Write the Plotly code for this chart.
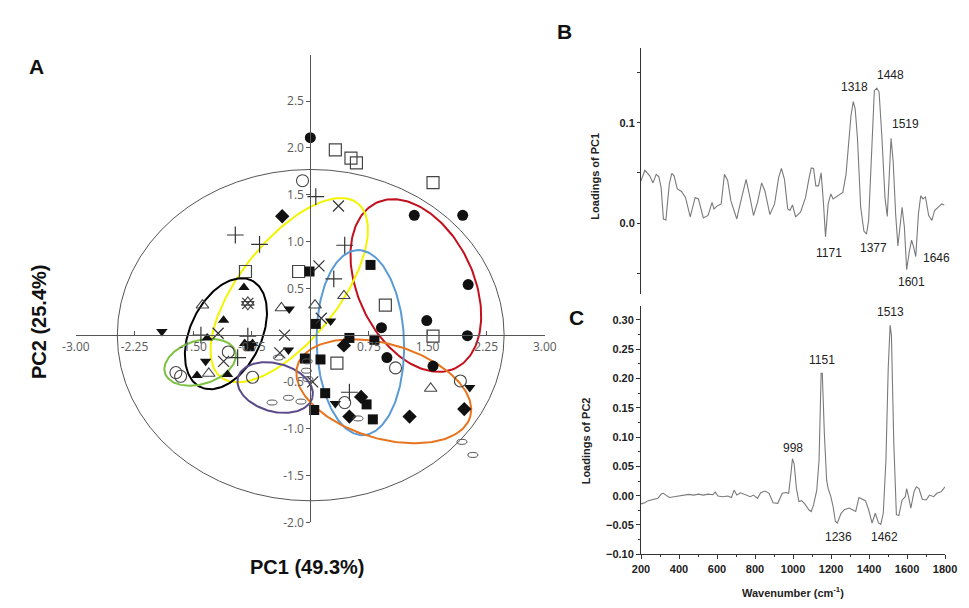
import numpy as np
import plotly.graph_objects as go

W, H = 969, 608

# ---------------- Panel A : PCA scores ----------------
FILLED_CIRCLE_X = [0.00, 1.33, 1.95, 2.02, 1.49, 0.91, 2.01, 0.98, 1.57]
FILLED_CIRCLE_Y = [2.11, 1.28, 1.28, 0.54, 0.156, 0.08, -0.006, -0.24, -0.33]

OPEN_SQUARE_X = [0.32, 0.52, 0.59, 1.57, -0.83, -0.15, 0.96, 1.57, 0.34]
OPEN_SQUARE_Y = [1.98, 1.89, 1.84, 1.63, 0.68, 0.68, 0.32, -0.01, -0.30]

FILLED_SQUARE_X = [-0.01, 0.77, 0.50, 0.82, -0.07, 0.13, 0.19, 0.05, 0.72, 0.80, 0.07, -0.78]
FILLED_SQUARE_Y = [0.68, 0.75, -0.03, -0.05, -0.25, -0.26, -0.62, -0.80, -0.74, -0.90, 0.12, -0.12]

FILLED_DIAMOND_X = [-0.36, 0.43, 0.65, 0.50, 1.27, 1.97]
FILLED_DIAMOND_Y = [1.27, -0.11, -0.66, -0.87, -0.87, -0.79]

FILLED_TRIUP_X = [-0.85, -1.11, -0.84, -0.74, -1.45, -1.06, -1.32]
FILLED_TRIUP_Y = [0.51, 0.16, -0.09, -0.09, -0.43, -0.42, -0.03]

OPEN_TRIUP_X = [-1.38, -1.30, -0.37, 0.06, 0.43, 1.54, -0.80]
OPEN_TRIUP_Y = [0.32, -0.41, 0.29, 0.32, 0.42, -0.57, 0.35]

OPEN_TRIDOWN_X = [-0.80]
OPEN_TRIDOWN_Y = [0.33]

FILLED_TRIDOWN_X = [-1.90, -0.27, 0.26, -0.28, 0.32, 2.04, -1.34]
FILLED_TRIDOWN_Y = [0.04, 0.28, 0.15, -0.16, -0.73, -0.56, -0.28]

OPEN_CIRCLE_X = [-0.10, -1.05, -1.72, -1.66, -0.74, 0.44, 1.09, 1.92]
OPEN_CIRCLE_Y = [1.65, -0.18, -0.40, -0.44, -0.45, -0.72, -0.35, -0.49]

PLUS_X = [0.07, -0.96, -0.65, 0.44, 0.30, -1.40, -0.80, 0.50, -0.93]
PLUS_Y = [1.48, 1.07, 0.97, 0.96, 0.60, 0.00, -0.01, -0.61, -0.24]

CROSS_X = [0.36, 0.11, -1.18, -0.33, -1.11, -0.39, 0.03, 0.14, -0.80]
CROSS_Y = [1.38, 0.74, 0.02, 0.00, -0.28, -0.19, -0.50, 0.18, 0.34]

OVAL_X = [-0.41, -0.04, -0.05, -0.03, -0.28, -0.12, -0.49, 0.61, 1.94, 2.08]
OVAL_Y = [-0.24, -0.28, -0.38, -0.47, -0.67, -0.71, -0.72, -0.89, -1.14, -1.28]

# group ellipses: centre x, centre y, semi-major (px), semi-minor (px), angle (deg), colour
GROUP_ELLIPSES = [
    (1.35, 0.53, 93.1, 59.1, -63.7, "#c3101e"),
    (-0.27, 0.48, 112.7, 50.6, 51.2, "#f4f400"),
    (-1.08, 0.015, 60.1, 36.5, 63.7, "#000000"),
    (-1.41, -0.29, 37.8, 22.1, 16.4, "#7dc242"),
    (-0.45, -0.56, 39.6, 24.4, -15.0, "#5a4a8a"),
    (0.64, -0.08, 93.8, 44.9, 91.7, "#5b9bd5"),
    (0.94, -0.60, 92.5, 47.9, -16.1, "#e8741e"),
]
T2_ELLIPSE = (-2.47, 2.48, -1.77, 1.77)

A_XTICKS = [-3.0, -2.25, -1.5, -0.75, 0.75, 1.5, 2.25, 3.0]
A_XTICKTEXT = ["-3.00", "-2.25", "-1.50", "-0.75", "0.75", "1.50", "2.25", "3.00"]
A_YTICKS = [-2.0, -1.5, -1.0, -0.5, 0.5, 1.0, 1.5, 2.0, 2.5]
A_YTICKTEXT = ["-2.0", "-1.5", "-1.0", "-0.5", "0.5", "1.0", "1.5", "2.0", "2.5"]

# ---------------- Panel B : PC1 loadings ----------------
B_WN = [200, 220, 246, 263, 280, 294, 306, 318, 331, 349, 362, 374, 391, 413, 434, 459, 485, 502, 528, 553,
        574, 584, 605, 622, 639, 656, 673, 704, 728, 753, 775, 792, 813, 835, 852, 878, 903, 924, 939, 955,
        972, 984, 997, 1014, 1040, 1066, 1083, 1096, 1108, 1120, 1134, 1148, 1160, 1171, 1185, 1199, 1211,
        1236, 1262, 1279, 1296, 1305, 1317, 1327, 1339, 1356, 1373, 1387, 1398, 1416, 1428, 1441, 1453,
        1467, 1484, 1496, 1506, 1516, 1527, 1540, 1552, 1564, 1574, 1586, 1598, 1612, 1624, 1634, 1646,
        1660, 1672, 1684, 1697, 1714, 1731, 1745, 1762, 1783, 1796]
B_LOAD = [0.042, 0.0525, 0.047, 0.040, 0.0485, 0.046, 0.035, 0.004, 0.003, 0.039, 0.0495, 0.047, 0.034,
          0.0315, 0.0255, 0.006, 0.0255, 0.024, 0.005, 0.0075, 0.0205, 0.014, 0.0175, 0.019, 0.0485, 0.0425,
          0.022, 0.004, 0.024, 0.0435, 0.024, 0.0075, 0.0205, 0.040, 0.032, 0.0085, 0.019, 0.045, 0.0545,
          0.0435, 0.014, 0.0125, 0.018, 0.006, 0.011, 0.0255, 0.0435, 0.055, 0.0545, 0.037, 0.037, 0.050,
          0.0205, -0.0138, 0.019, 0.029, 0.024, 0.027, 0.0305, 0.0485, 0.086, 0.107, 0.121, 0.114, 0.085,
          0.016, -0.008, -0.011, 0.0026, 0.078, 0.132, 0.1345, 0.1306, 0.088, 0.0256, 0.0066, 0.0486, 0.0846,
          0.0617, 0.0092, -0.023, -0.004, 0.0157, -0.004, -0.0466, -0.0285, -0.017, -0.0236, -0.0335, 0.0092,
          0.027, 0.024, 0.026, 0.0075, 0.0026, 0.0125, 0.0157, 0.019, 0.018]
B_PEAK_TEXT = ["1318", "1448", "1519", "1171", "1377", "1601", "1646"]
B_PEAK_X = [1322, 1515, 1590, 1190, 1424, 1621, 1757]
B_PEAK_Y = [0.1355, 0.1476, 0.0984, -0.0302, -0.0253, -0.059, -0.0351]

# ---------------- Panel C : PC2 loadings ----------------
C_WN = [200, 220, 238, 263, 289, 306, 318, 331, 349, 374, 400, 425, 451, 477, 502, 528, 553, 579, 591, 605,
        630, 656, 676, 690, 704, 724, 750, 775, 792, 813, 830, 852, 874, 895, 920, 943, 963, 977, 989, 997,
        1006, 1018, 1031, 1045, 1062, 1083, 1096, 1108, 1125, 1137, 1148, 1154, 1165, 1177, 1185, 1199,
        1211, 1223, 1233, 1240, 1253, 1270, 1296, 1313, 1330, 1347, 1364, 1381, 1398, 1416, 1433, 1450,
        1462, 1475, 1489, 1501, 1511, 1518, 1530, 1544, 1557, 1574, 1591, 1598, 1608, 1620, 1637, 1649,
        1663, 1680, 1701, 1718, 1740, 1757, 1779, 1800]
C_LOAD = [-0.014, -0.012, -0.0085, -0.006, -0.0045, 0.0027, 0.004, 0.001, -0.003, -0.0017, -0.0006, 0.0016,
          0.0022, 0.001, 0.0027, 0.001, 0.0027, 0.0016, 0.006, -0.0006, -0.0017, -0.0006, -0.003, 0.0095,
          0.001, 0.005, 0.001, -0.0017, 0.001, -0.0045, 0.005, 0.0078, 0.004, -0.012, -0.013, 0.004, 0.0055,
          0.004, 0.0375, 0.063, 0.054, 0.012, -0.010, -0.0085, -0.014, -0.024, -0.027, -0.0157, 0.0095, 0.060,
          0.2086, 0.2086, 0.105, 0.026, 0.012, -0.0017, -0.0185, -0.044, -0.0466, -0.041, -0.030, -0.024,
          -0.021, -0.024, -0.027, -0.003, -0.006, -0.0085, -0.024, -0.0466, -0.030, -0.0466, -0.049, -0.030,
          0.060, 0.217, 0.291, 0.273, 0.0936, -0.0325, -0.034, -0.0073, -0.0017, 0.012, -0.0017, -0.0213,
          0.0067, 0.015, 0.012, -0.006, -0.0073, 0.001, -0.0017, 0.004, 0.0067, 0.015]
C_PEAK_TEXT = ["998", "1151", "1513", "1236", "1462"]
C_PEAK_X = [998, 1151, 1515, 1237, 1480]
C_PEAK_Y = [0.0813, 0.231, 0.3135, -0.0702, -0.0702]

# ---------------- layout geometry (pixels) ----------------
def fx(px):
    return px / W

def fy(py):
    return 1 - py / H

A_XRANGE = [-3.0, 3.0]
A_YRANGE = [-2.0, 2.99]
A_XDOM = [fx(63.6), fx(545.4)]
A_YDOM = [fy(529.3), fy(56.0)]
kx = (A_XDOM[1] - A_XDOM[0]) * W / (A_XRANGE[1] - A_XRANGE[0])
ky = (A_YDOM[1] - A_YDOM[0]) * H / (A_YRANGE[1] - A_YRANGE[0])
x_zero_pos = A_XDOM[0] + (0 - A_XRANGE[0]) / (A_XRANGE[1] - A_XRANGE[0]) * (A_XDOM[1] - A_XDOM[0])
y_zero_pos = A_YDOM[0] + (0 - A_YRANGE[0]) / (A_YRANGE[1] - A_YRANGE[0]) * (A_YDOM[1] - A_YDOM[0])

BC_XDOM = [fx(644.3), fx(956.7)]
B_YDOM = [fy(298.0), fy(48.3)]
B_YRANGE = [-0.0709, 0.1749]
C_YDOM = [fy(561.7), fy(310.0)]
C_YRANGE = [-0.10, 0.3236]

fig = go.Figure()

# group confidence ellipses
t = np.linspace(0, 2 * np.pi, 181)
for cx, cy, a, b, ang, col in GROUP_ELLIPSES:
    th = np.deg2rad(ang)
    ex = cx + (a * np.cos(t) * np.cos(th) - b * np.sin(t) * np.sin(th)) / kx
    ey = cy + (a * np.cos(t) * np.sin(th) + b * np.sin(t) * np.cos(th)) / ky
    fig.add_trace(go.Scatter(x=ex, y=ey, mode="lines", line=dict(color=col, width=2),
                             hoverinfo="skip", xaxis="x", yaxis="y"))

def add_markers(xs, ys, symbol, size, color="#111", lw=1.0, lcol="#333"):
    fig.add_trace(go.Scatter(
        x=xs, y=ys, mode="markers", xaxis="x", yaxis="y",
        marker=dict(symbol=symbol, size=size, color=color,
                    line=dict(width=lw, color=lcol))))

add_markers(FILLED_CIRCLE_X, FILLED_CIRCLE_Y, "circle", 11, lw=0)
add_markers(OPEN_SQUARE_X, OPEN_SQUARE_Y, "square-open", 12, color="#444", lw=1.2)
add_markers(FILLED_SQUARE_X, FILLED_SQUARE_Y, "square", 10, lw=0)
add_markers(FILLED_DIAMOND_X, FILLED_DIAMOND_Y, "diamond", 11, lw=0)
add_markers(FILLED_TRIUP_X, FILLED_TRIUP_Y, "triangle-up", 10, lw=0)
add_markers(OPEN_TRIUP_X, OPEN_TRIUP_Y, "triangle-up-open", 11, color="#444", lw=1.1)
add_markers(OPEN_TRIDOWN_X, OPEN_TRIDOWN_Y, "triangle-down-open", 11, color="#444", lw=1.1)
add_markers(FILLED_TRIDOWN_X, FILLED_TRIDOWN_Y, "triangle-down", 10, lw=0)
add_markers(OPEN_CIRCLE_X, OPEN_CIRCLE_Y, "circle-open", 12, color="#444", lw=1.1)
add_markers(PLUS_X, PLUS_Y, "cross-thin-open", 12, color="#333", lw=1.2)
add_markers(CROSS_X, CROSS_Y, "x-thin-open", 11, color="#333", lw=1.2)

shapes = [dict(type="circle", xref="x", yref="y", x0=T2_ELLIPSE[0], x1=T2_ELLIPSE[1],
               y0=T2_ELLIPSE[2], y1=T2_ELLIPSE[3], line=dict(color="#555", width=1), layer="below")]
for ox, oy in zip(OVAL_X, OVAL_Y):
    shapes.append(dict(type="circle", xref="x", yref="y", xsizemode="pixel", ysizemode="pixel",
                       xanchor=ox, yanchor=oy, x0=-5, x1=5, y0=-2.5, y1=2.5,
                       line=dict(color="#555", width=1)))

# spectra
fig.add_trace(go.Scatter(x=B_WN, y=B_LOAD, mode="lines", line=dict(color="#7a7a7a", width=1.1),
                         xaxis="x2", yaxis="y2"))
fig.add_trace(go.Scatter(x=C_WN, y=C_LOAD, mode="lines", line=dict(color="#7a7a7a", width=1.1),
                         xaxis="x3", yaxis="y3"))

ann = []
peak_font = dict(family="Liberation Sans, Arial", size=12, color="#222")
for txt, x, y in zip(B_PEAK_TEXT, B_PEAK_X, B_PEAK_Y):
    ann.append(dict(text=txt, x=x, y=y, xref="x2", yref="y2", showarrow=False,
                    xanchor="center", yanchor="middle", font=peak_font))
for txt, x, y in zip(C_PEAK_TEXT, C_PEAK_X, C_PEAK_Y):
    ann.append(dict(text=txt, x=x, y=y, xref="x3", yref="y3", showarrow=False,
                    xanchor="center", yanchor="middle", font=peak_font))

big = dict(family="Liberation Sans, Arial", size=21, color="#111", weight="bold")
title_font = dict(family="Liberation Sans, Arial", size=20, color="#111", weight="bold")
small_bold = dict(family="Liberation Sans, Arial", size=11, color="#222", weight="bold")

def paper_text(text, px, py, font, angle=0):
    return dict(text=text, x=fx(px), y=fy(py), xref="paper", yref="paper", showarrow=False,
                xanchor="center", yanchor="middle", textangle=angle, font=font)

ann += [
    paper_text("A", 23, 67, big),
    paper_text("B", 566, 32, big),
    paper_text("C", 578, 322, big),
    paper_text("PC2 (25.4%)", 25, 326, title_font, -90),
    paper_text("PC1 (49.3%)", 302, 575, title_font),
    paper_text("Loadings of PC1", 597, 178, small_bold, -90),
    paper_text("Loadings of PC2", 588, 447, small_bold, -90),
    paper_text("Wavenumber (cm<sup>-1</sup>)", 800, 600, small_bold),
]

tickA = dict(family="Open Sans, Noto Sans", size=12, color="#5a5a5a")
tickBC = dict(family="Liberation Sans, Arial", size=11, color="#222", weight="bold")

fig.update_layout(
    width=W, height=H, margin=dict(l=0, r=0, t=0, b=0),
    paper_bgcolor="white", plot_bgcolor="rgba(0,0,0,0)", showlegend=False,
    shapes=shapes, annotations=ann,
    xaxis=dict(domain=A_XDOM, range=A_XRANGE, anchor="free", position=y_zero_pos,
               showline=True, linecolor="#555", linewidth=1, ticks="inside", ticklen=4,
               tickcolor="#555", tickvals=A_XTICKS, ticktext=A_XTICKTEXT, tickfont=tickA,
               showgrid=False, zeroline=False),
    yaxis=dict(domain=A_YDOM, range=A_YRANGE, anchor="free", position=x_zero_pos,
               showline=True, linecolor="#555", linewidth=1, ticks="outside", ticklen=4,
               tickcolor="#555", tickvals=A_YTICKS, ticktext=A_YTICKTEXT, tickfont=tickA,
               showgrid=False, zeroline=False),
    xaxis2=dict(domain=BC_XDOM, range=[200, 1800], anchor="y2", visible=False),
    yaxis2=dict(domain=B_YDOM, range=B_YRANGE, anchor="x2", showline=True, linecolor="#333",
                linewidth=1, ticks="outside", ticklen=3, tickcolor="#333",
                tickvals=[0.0, 0.1], ticktext=["0.0", "0.1"],
                minor=dict(tickvals=[-0.05, 0.05, 0.15], ticks="outside", ticklen=3, tickcolor="#333"),
                tickfont=tickBC, showgrid=False, zeroline=False),
    xaxis3=dict(domain=BC_XDOM, range=[200, 1800], anchor="y3", showline=True, linecolor="#333",
                linewidth=1, ticks="outside", ticklen=4, tickcolor="#333", tick0=200, dtick=200,
                minor=dict(dtick=100, ticks="outside", ticklen=2, tickcolor="#333"),
                tickfont=tickBC, showgrid=False, zeroline=False),
    yaxis3=dict(domain=C_YDOM, range=C_YRANGE, anchor="x3", showline=True, linecolor="#333",
                linewidth=1, ticks="outside", ticklen=4, tickcolor="#333", tick0=0, dtick=0.05,
                tickformat=".2f",
                minor=dict(dtick=0.025, ticks="outside", ticklen=2, tickcolor="#333"),
                tickfont=tickBC, showgrid=False, zeroline=False),
)

fig.write_html("out.html", config={"displayModeBar": False},
               post_script="document.body.style.margin='0px';document.body.style.overflow='hidden';")
